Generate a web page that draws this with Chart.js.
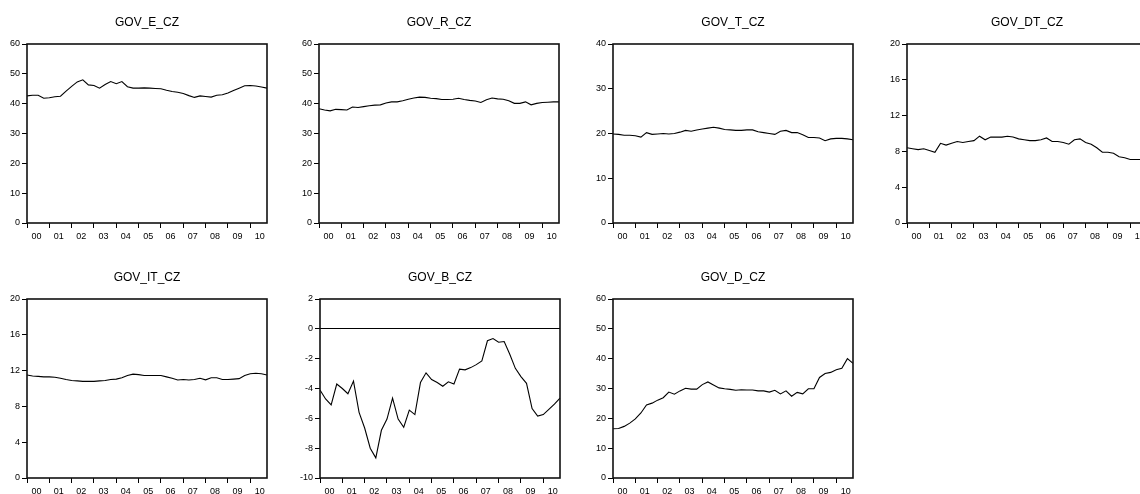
<!DOCTYPE html>
<html>
<head>
<meta charset="utf-8">
<script src="https://cdn.jsdelivr.net/npm/chart.js@4"></script>
<style>
  html, body { margin: 0; padding: 0; background: #fff; overflow: hidden; }
  body { width: 1140px; height: 494px; position: relative; }
  canvas { position: absolute; }
</style>
</head>
<body>
<canvas id="govE" width="273" height="247" style="left:1px;top:0px"></canvas>
<canvas id="govR" width="273" height="247" style="left:293px;top:0px"></canvas>
<canvas id="govT" width="273" height="247" style="left:587px;top:0px"></canvas>
<canvas id="govDT" width="273" height="247" style="left:881px;top:0px"></canvas>
<canvas id="govIT" width="273" height="247" style="left:1px;top:255px"></canvas>
<canvas id="govB" width="273" height="247" style="left:294px;top:255px"></canvas>
<canvas id="govD" width="273" height="247" style="left:587px;top:255px"></canvas>
<script>
// quarterly data 2000Q1 - 2010Q4, % of GDP
const yearLabels = ["00", "01", "02", "03", "04", "05", "06", "07", "08", "09", "10"];
const quarters = yearLabels.flatMap(y => ["Q1", "Q2", "Q3", "Q4"].map(q => "20" + y + q));

const govE = [42.6, 42.8, 42.8, 41.8, 42.0, 42.3, 42.5, 44.2, 45.8, 47.3,
  48.0, 46.3, 46.1, 45.2, 46.4, 47.4, 46.7, 47.4, 45.7, 45.2,
  45.2, 45.3, 45.2, 45.1, 45.0, 44.5, 44.1, 43.8, 43.4, 42.7,
  42.1, 42.6, 42.4, 42.2, 42.8, 43.0, 43.6, 44.4, 45.2, 46.0,
  46.1, 45.9, 45.6, 45.2];
const govR = [38.3, 37.9, 37.6, 38.1, 38.0, 37.9, 38.9, 38.7, 39.0, 39.3,
  39.5, 39.6, 40.2, 40.6, 40.6, 41.0, 41.5, 41.9, 42.2, 42.1,
  41.8, 41.7, 41.4, 41.4, 41.5, 41.8, 41.4, 41.1, 40.9, 40.4,
  41.3, 41.9, 41.6, 41.5, 41.0, 40.1, 40.1, 40.6, 39.6, 40.1,
  40.4, 40.5, 40.6, 40.6];
const govT = [19.9, 19.8, 19.6, 19.6, 19.5, 19.2, 20.2, 19.8, 19.9, 20.0,
  19.9, 20.0, 20.3, 20.7, 20.5, 20.8, 21.0, 21.2, 21.4, 21.2,
  20.9, 20.8, 20.7, 20.7, 20.8, 20.8, 20.4, 20.2, 20.0, 19.8,
  20.5, 20.7, 20.2, 20.2, 19.7, 19.1, 19.1, 19.0, 18.4, 18.8,
  18.9, 18.9, 18.8, 18.6];
const govDT = [8.4, 8.3, 8.2, 8.3, 8.1, 7.9, 8.9, 8.7, 8.9, 9.1,
  9.0, 9.1, 9.2, 9.7, 9.3, 9.6, 9.6, 9.6, 9.7, 9.6,
  9.4, 9.3, 9.2, 9.2, 9.3, 9.5, 9.1, 9.1, 9.0, 8.8,
  9.3, 9.4, 9.0, 8.8, 8.4, 7.9, 7.9, 7.8, 7.4, 7.3,
  7.1, 7.1, 7.1, 7.0];
const govIT = [11.5, 11.4, 11.35, 11.3, 11.3, 11.25, 11.15, 11.0, 10.9, 10.85,
  10.8, 10.8, 10.8, 10.85, 10.9, 11.0, 11.05, 11.2, 11.45, 11.6,
  11.55, 11.45, 11.45, 11.45, 11.45, 11.3, 11.15, 10.95, 11.0, 10.95,
  11.0, 11.15, 10.97, 11.2, 11.2, 11.0, 11.0, 11.05, 11.1, 11.45,
  11.65, 11.7, 11.65, 11.5];
const govB = [-4.1, -4.7, -5.1, -3.7, -4.0, -4.35, -3.5, -5.6, -6.65, -8.0,
  -8.65, -6.8, -6.05, -4.65, -6.05, -6.6, -5.45, -5.75, -3.6, -2.95,
  -3.4, -3.6, -3.85, -3.55, -3.7, -2.7, -2.75, -2.6, -2.4, -2.15,
  -0.8, -0.65, -0.9, -0.85, -1.7, -2.65, -3.2, -3.65, -5.35, -5.85,
  -5.75, -5.4, -5.05, -4.65];
const govD = [16.5, 16.6, 17.3, 18.4, 19.8, 21.8, 24.5, 25.1, 26.1, 26.9,
  28.8, 28.1, 29.2, 30.1, 29.8, 29.8, 31.3, 32.2, 31.2, 30.2,
  29.9, 29.7, 29.4, 29.6, 29.5, 29.5, 29.2, 29.2, 28.8, 29.4,
  28.2, 29.2, 27.4, 28.7, 28.2, 29.9, 29.9, 33.7, 35.0, 35.4,
  36.3, 36.8, 40.0, 38.4];

const FONT = "'Liberation Sans', Arial, Helvetica, sans-serif";

// box around the plot area
const framePlugin = {
  id: "frame",
  afterDatasetsDraw(chart) {
    const { ctx, chartArea: a } = chart;
    ctx.save();
    ctx.strokeStyle = "#111";
    ctx.lineWidth = 1.6;
    ctx.strokeRect(a.left, a.top, a.right - a.left, a.bottom - a.top);
    ctx.restore();
  }
};

function makePanel(id, title, values, yMin, yMax, step, zeroLine) {
  return new Chart(document.getElementById(id), {
    type: "line",
    data: {
      labels: quarters,
      datasets: [{
        data: values,
        borderColor: "#000",
        borderWidth: 1.1,
        pointRadius: 0,
        tension: 0,
        fill: false
      }]
    },
    options: {
      responsive: false,
      animation: false,
      layout: { padding: { left: 0, right: 7, top: 0, bottom: 0 } },
      plugins: {
        legend: { display: false },
        tooltip: { enabled: false },
        title: {
          display: true,
          text: title,
          color: "#000",
          fullSize: false,
          font: { family: FONT, size: 12, weight: "normal" },
          padding: { top: 15, bottom: 14.6 }
        }
      },
      scales: {
        x: {
          type: "category",
          offset: false,
          afterBuildTicks: s => { s.ticks = s.ticks.filter(t => t.value % 4 === 0); },
          afterFit: s => { s.height = 24; },
          ticks: {
            autoSkip: false,
            maxRotation: 0,
            align: "start",
            labelOffset: 4.5,
            padding: 3,
            color: "#000",
            font: { family: FONT, size: 9 },
            callback: v => yearLabels[v / 4]
          },
          grid: { drawOnChartArea: false, tickLength: 5, color: "#000", lineWidth: 1 },
          border: { display: false }
        },
        y: {
          min: yMin,
          max: yMax,
          afterFit: s => { s.width = 26; },
          ticks: {
            stepSize: step,
            padding: 2,
            color: "#000",
            font: { family: FONT, size: 9 }
          },
          grid: {
            drawOnChartArea: !!zeroLine,
            color: c => (zeroLine && c.tick && c.tick.value === 0) ? "#000" : "rgba(0,0,0,0)",
            tickColor: "#000",
            tickLength: 5,
            lineWidth: 1
          },
          border: { display: false }
        }
      }
    },
    plugins: [framePlugin]
  });
}

makePanel("govE", "GOV_E_CZ", govE, 0, 60, 10);
makePanel("govR", "GOV_R_CZ", govR, 0, 60, 10);
makePanel("govT", "GOV_T_CZ", govT, 0, 40, 10);
makePanel("govDT", "GOV_DT_CZ", govDT, 0, 20, 4);
makePanel("govIT", "GOV_IT_CZ", govIT, 0, 20, 4);
makePanel("govB", "GOV_B_CZ", govB, -10, 2, 2, true);
makePanel("govD", "GOV_D_CZ", govD, 0, 60, 10);
</script>
</body>
</html>
